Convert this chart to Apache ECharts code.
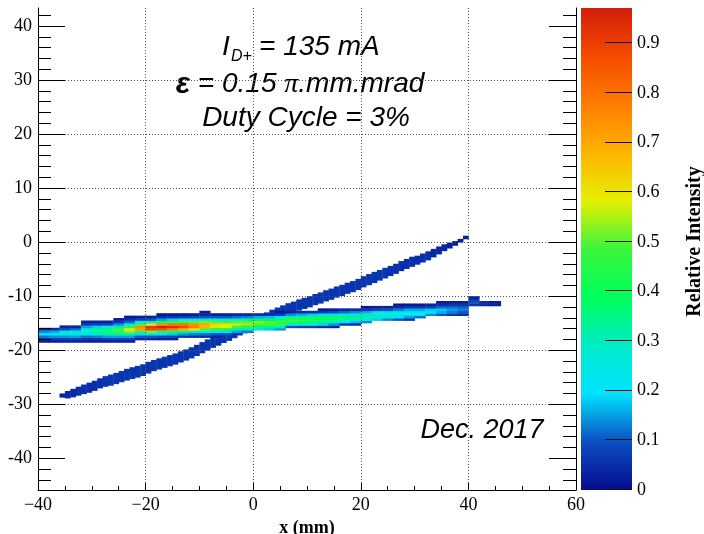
<!DOCTYPE html>
<html>
<head>
<meta charset="utf-8">
<title>Beam profile</title>
<script src="https://cdn.jsdelivr.net/npm/echarts@6/dist/echarts.min.js"></script>
<style>
  html, body { margin: 0; padding: 0; background: #fff; }
  #chart { width: 704px; height: 534px; }
</style>
</head>
<body>
<div id="chart"></div>
<script>
// y bins of the main band are 0.45 mm tall, counted up from -46 mm
const binY0 = -46;
const binH = 0.45;

// main band: [x start (2 mm wide column), first y bin, intensities bottom -> top]
const bandColumns = [
    [-40, 61, [0.03, 0.06, 0.12, 0.20, 0.14, 0.05]],
    [-38, 61, [0.03, 0.07, 0.14, 0.22, 0.16, 0.05]],
    [-36, 61, [0.03, 0.07, 0.14, 0.24, 0.22, 0.10, 0.04]],
    [-34, 61, [0.03, 0.07, 0.15, 0.25, 0.27, 0.12, 0.04]],
    [-32, 61, [0.03, 0.06, 0.12, 0.22, 0.30, 0.28, 0.15, 0.07, 0.03]],
    [-30, 61, [0.03, 0.06, 0.13, 0.25, 0.35, 0.32, 0.18, 0.08, 0.03]],
    [-28, 61, [0.03, 0.07, 0.15, 0.30, 0.40, 0.36, 0.20, 0.09, 0.03]],
    [-26, 61, [0.03, 0.07, 0.15, 0.32, 0.46, 0.48, 0.30, 0.14, 0.06, 0.02]],
    [-24, 61, [0.03, 0.07, 0.15, 0.32, 0.52, 0.60, 0.45, 0.24, 0.11, 0.05, 0.02]],
    [-22, 62, [0.04, 0.10, 0.22, 0.45, 0.72, 0.75, 0.48, 0.22, 0.08, 0.03]],
    [-20, 62, [0.04, 0.10, 0.24, 0.52, 0.88, 0.92, 0.60, 0.30, 0.10, 0.03]],
    [-18, 62, [0.03, 0.08, 0.20, 0.45, 0.85, 0.97, 0.75, 0.40, 0.15, 0.05, 0.02]],
    [-16, 62, [0.03, 0.07, 0.18, 0.40, 0.78, 0.94, 0.80, 0.45, 0.18, 0.06, 0.02]],
    [-14, 63, [0.06, 0.15, 0.35, 0.70, 0.88, 0.80, 0.48, 0.20, 0.07, 0.02]],
    [-12, 63, [0.05, 0.13, 0.30, 0.60, 0.78, 0.75, 0.50, 0.22, 0.08, 0.03]],
    [-10, 63, [0.05, 0.12, 0.26, 0.50, 0.68, 0.70, 0.52, 0.26, 0.10, 0.04, 0.02]],
    [-8, 63, [0.04, 0.10, 0.22, 0.42, 0.60, 0.63, 0.50, 0.26, 0.10, 0.03]],
    [-6, 64, [0.10, 0.22, 0.42, 0.58, 0.60, 0.48, 0.26, 0.10, 0.03]],
    [-4, 65, [0.15, 0.32, 0.48, 0.56, 0.50, 0.30, 0.12, 0.04]],
    [-2, 65, [0.13, 0.30, 0.46, 0.54, 0.50, 0.32, 0.13, 0.04]],
    [0, 66, [0.20, 0.38, 0.50, 0.52, 0.36, 0.16, 0.05]],
    [2, 66, [0.18, 0.36, 0.48, 0.50, 0.37, 0.17, 0.05]],
    [4, 66, [0.15, 0.32, 0.45, 0.48, 0.38, 0.20, 0.07, 0.02]],
    [6, 67, [0.10, 0.28, 0.44, 0.46, 0.34, 0.14, 0.04]],
    [8, 67, [0.08, 0.25, 0.42, 0.44, 0.35, 0.16, 0.05]],
    [10, 67, [0.07, 0.22, 0.38, 0.42, 0.36, 0.18, 0.06]],
    [12, 67, [0.05, 0.18, 0.34, 0.40, 0.37, 0.22, 0.08, 0.02]],
    [14, 67, [0.04, 0.14, 0.30, 0.38, 0.37, 0.24, 0.10, 0.03]],
    [16, 68, [0.06, 0.20, 0.32, 0.36, 0.27, 0.12, 0.04]],
    [18, 68, [0.05, 0.17, 0.30, 0.34, 0.28, 0.14, 0.05]],
    [20, 69, [0.14, 0.26, 0.32, 0.28, 0.16, 0.06, 0.02]],
    [22, 70, [0.18, 0.28, 0.30, 0.20, 0.08, 0.03]],
    [24, 70, [0.14, 0.25, 0.28, 0.22, 0.10, 0.03]],
    [26, 70, [0.10, 0.20, 0.26, 0.24, 0.13, 0.05, 0.02]],
    [28, 70, [0.06, 0.15, 0.23, 0.24, 0.16, 0.07, 0.02]],
    [30, 71, [0.12, 0.20, 0.22, 0.16, 0.07, 0.02]],
    [32, 72, [0.14, 0.20, 0.18, 0.09, 0.03]],
    [34, 72, [0.10, 0.16, 0.18, 0.12, 0.05, 0.02]],
    [36, 72, [0.07, 0.13, 0.15, 0.12, 0.06, 0.02]],
    [38, 72, [0.05, 0.10, 0.13, 0.11, 0.06, 0.02]],
    [40, 76, [0.06, 0.10, 0.07, 0.03]],
    [42, 76, [0.05, 0.04]],
    [44, 76, [0.03, 0.02]]
];

// thin tilted line: [x start (1 mm wide), y low, y high, intensity]
const lineColumns = [
    [-36, -28.7, -28.0, 0.03], [-35, -28.85, -27.55, 0.04], [-34, -28.65, -27.15, 0.04],
    [-33, -28.35, -26.75, 0.05], [-32, -28.05, -26.35, 0.05], [-31, -27.8, -26.0, 0.05],
    [-30, -27.45, -25.65, 0.05], [-29, -27.0, -25.2, 0.05], [-28, -26.7, -24.8, 0.06],
    [-27, -26.5, -24.5, 0.06], [-26, -26.2, -24.2, 0.06], [-25, -25.85, -23.85, 0.06],
    [-24, -25.55, -23.45, 0.06], [-23, -25.25, -23.15, 0.06], [-22, -25.0, -22.9, 0.06],
    [-21, -24.7, -22.6, 0.06], [-20, -24.25, -22.15, 0.06], [-19, -23.8, -21.8, 0.06],
    [-18, -23.5, -21.5, 0.06], [-17, -23.2, -21.2, 0.06], [-16, -22.9, -20.9, 0.06],
    [-15, -22.6, -20.6, 0.06], [-14, -22.2, -20.2, 0.06], [-13, -21.85, -19.85, 0.06],
    [-12, -21.45, -19.45, 0.06], [-11, -21.0, -19.0, 0.06], [-10, -20.5, -18.5, 0.06],
    [-9, -20.0, -18.0, 0.06], [-8, -19.5, -17.5, 0.06], [-7, -19.1, -17.1, 0.06],
    [-6, -18.6, -16.6, 0.06], [-5, -18.2, -16.2, 0.06], [-4, -17.7, -15.7, 0.06],
    [-3, -17.2, -15.2, 0.06], [-2, -16.8, -14.8, 0.06], [-1, -16.3, -14.3, 0.06],
    [0, -15.9, -13.9, 0.06], [1, -15.4, -13.4, 0.06], [2, -15.0, -13.0, 0.06],
    [3, -14.5, -12.5, 0.06], [4, -14.1, -12.1, 0.06], [5, -13.7, -11.7, 0.06],
    [6, -13.3, -11.3, 0.06], [7, -13.0, -11.0, 0.06], [8, -12.6, -10.6, 0.06],
    [9, -12.3, -10.3, 0.06], [10, -12.0, -10.0, 0.06], [11, -11.6, -9.6, 0.06],
    [12, -11.3, -9.3, 0.06], [13, -10.9, -8.9, 0.06], [14, -10.6, -8.6, 0.06],
    [15, -10.2, -8.2, 0.06], [16, -9.9, -7.9, 0.06], [17, -9.5, -7.5, 0.06],
    [18, -9.2, -7.2, 0.06], [19, -8.8, -6.8, 0.06], [20, -8.3, -6.3, 0.06],
    [21, -7.9, -5.9, 0.06], [22, -7.5, -5.5, 0.06], [23, -7.05, -5.15, 0.06],
    [24, -6.65, -4.75, 0.06], [25, -6.2, -4.4, 0.05], [26, -5.8, -4.0, 0.05],
    [27, -5.3, -3.5, 0.05], [28, -4.9, -3.1, 0.05], [29, -4.5, -2.7, 0.05],
    [30, -4.1, -2.5, 0.05], [31, -3.7, -2.1, 0.05], [32, -3.3, -1.7, 0.05],
    [33, -2.75, -1.25, 0.04], [34, -2.2, -0.8, 0.04], [35, -1.6, -0.4, 0.04],
    [36, -1.1, -0.1, 0.03], [37, -0.6, 0.2, 0.03], [38, 0.0, 0.6, 0.03],
    [39, 0.6, 1.2, 0.03]
];

const yMajor = [-40, -30, -20, -10, 0, 10, 20, 30, 40];
const yMinor = [-44, -42, -38, -36, -34, -32, -28, -26, -24, -22, -18, -16, -14, -12,
    -8, -6, -4, -2, 2, 4, 6, 8, 12, 14, 16, 18, 22, 24, 26, 28, 32, 34, 36, 38, 42];
const zTicks = [0, 0.1, 0.2, 0.3, 0.4, 0.5, 0.6, 0.7, 0.8, 0.9];
const zMax = 0.971;

// rainbow palette, evenly spread from 0 to zMax
const palette = ['#060c8e', '#0b4fc2', '#00e2ff', '#00ebc8', '#00ff5a', '#3cf53c',
    '#e6f000', '#ffb400', '#ff7d00', '#f54a00', '#d21e0a'];

const cells = [];
lineColumns.forEach(function (c) {
    cells.push([c[0], c[1], c[0] + 1, c[2], c[3]]);
});
bandColumns.forEach(function (c) {
    c[2].forEach(function (v, i) {
        const y0 = binY0 + (c[1] + i) * binH;
        cells.push([c[0], y0, c[0] + 2, y0 + binH, v]);
    });
});

const serif = '"Liberation Serif", "DejaVu Serif", serif';
const sans = '"Liberation Sans", Arial, sans-serif';
const black = '#000';
const grid = {type: [1, 2], color: '#555', width: 1};

function yAxisPart(position, ticks, len, withLine, withLabel, withGrid) {
    return {
        type: 'value', gridIndex: 0, position: position,
        min: -45.87, max: 43.33, splitNumber: 9, z: 10,
        axisLine: {show: withLine, onZero: false, lineStyle: {color: black, width: 1}},
        axisTick: {show: true, inside: true, length: len, customValues: ticks,
            lineStyle: {color: black, width: 1}},
        axisLabel: {show: withLabel, customValues: yMajor, margin: 6,
            fontFamily: serif, fontSize: 18, color: black},
        splitLine: {show: withGrid, showMinLine: false, showMaxLine: false, lineStyle: grid}
    };
}

const stops = palette.map(function (c, i) {
    return {offset: i / (palette.length - 1), color: c};
});

function cellRect(params, api) {
    const a = api.coord([api.value(0), api.value(3)]);
    const b = api.coord([api.value(2), api.value(1)]);
    return {
        type: 'rect',
        shape: {x: a[0], y: a[1], width: b[0] - a[0] + 0.4, height: b[1] - a[1] + 0.4},
        style: {fill: api.visual('color')}
    };
}

// colour scale bar, with its tick marks as thin black bars
function colorBar(params, api) {
    const a = api.coord([api.value(0), api.value(3)]);
    const b = api.coord([api.value(2), api.value(1)]);
    const children = [{
        type: 'rect',
        shape: {x: a[0], y: a[1], width: b[0] - a[0], height: b[1] - a[1]},
        style: {fill: new echarts.graphic.LinearGradient(0, 1, 0, 0, stops)}
    }];
    zTicks.forEach(function (t) {
        const p = api.coord([api.value(2), t]);
        children.push({
            type: 'rect', z2: 10,
            shape: {x: Math.round(p[0]) - 27, y: Math.round(p[1]) - 1, width: 27, height: 1},
            style: {fill: '#111'}
        });
    });
    return {type: 'group', children: children};
}

const texts = [
    {type: 'text', x: 222, y: 47.3, z: 10, style: {text: 'I', fontFamily: sans,
        fontStyle: 'italic', fontSize: 28, fill: black, verticalAlign: 'middle'}},
    {type: 'text', x: 231, y: 57, z: 10, style: {text: 'D+', fontFamily: sans,
        fontStyle: 'italic', fontSize: 16, fill: black, verticalAlign: 'middle'}},
    {type: 'text', x: 259, y: 47.3, z: 10, style: {text: '= 135 mA', fontFamily: sans,
        fontStyle: 'italic', fontSize: 28, fill: black, verticalAlign: 'middle'}},
    {type: 'text', x: 300, y: 84.3, z: 10, style: {
        text: '{e|\u03b5}{t| = 0.15 }{p|\u03c0}{t|.mm.mrad}',
        align: 'center', verticalAlign: 'middle',
        rich: {
            e: {fontFamily: sans, fontStyle: 'italic', fontWeight: 'bold', fontSize: 30, fill: black},
            t: {fontFamily: sans, fontStyle: 'italic', fontSize: 28, fill: black},
            p: {fontFamily: serif, fontStyle: 'italic', fontSize: 28, fill: black}
        }
    }},
    {type: 'text', x: 306, y: 118.3, z: 10, style: {text: 'Duty Cycle = 3%', fontFamily: sans,
        fontStyle: 'italic', fontSize: 28, fill: black, align: 'center', verticalAlign: 'middle'}},
    {type: 'text', x: 482, y: 430.6, z: 10, style: {text: 'Dec. 2017', fontFamily: sans,
        fontStyle: 'italic', fontSize: 27, fill: black, align: 'center', verticalAlign: 'middle'}},
    {type: 'text', x: 695, y: 241.5, rotation: Math.PI / 2, z: 10, style: {
        text: 'Relative Intensity', fontFamily: serif, fontWeight: 'bold', fontSize: 20,
        fill: black, align: 'center', verticalAlign: 'middle'}}
];

let chart = echarts.init(document.getElementById('chart'));
let option = {
    animation: false,
    backgroundColor: '#fff',
    grid: [
        {left: 38, right: 128, top: 8, bottom: 44, containLabel: false, outerBoundsMode: 'none'},
        {left: 581, right: 72, top: 8, bottom: 44, containLabel: false, outerBoundsMode: 'none'}
    ],
    xAxis: [
        {
            type: 'value', gridIndex: 0, min: -40, max: 60, interval: 20, z: 10,
            name: 'x (mm)', nameLocation: 'middle', nameGap: 1,
            nameTextStyle: {fontFamily: serif, fontWeight: 'bold', fontSize: 18, color: black},
            axisLine: {onZero: false, lineStyle: {color: black, width: 1}},
            axisTick: {inside: true, length: 7, lineStyle: {color: black}},
            minorTick: {show: true, splitNumber: 4, length: 4, lineStyle: {color: black}},
            axisLabel: {
                margin: 6, fontFamily: serif, fontSize: 18, color: black,
                formatter: function (v) { return v < 0 ? '\u2212' + (-v) : String(v); }
            },
            splitLine: {show: true, showMinLine: false, showMaxLine: false, lineStyle: grid}
        },
        {type: 'value', gridIndex: 1, min: 0, max: 1, show: false}
    ],
    yAxis: [
        yAxisPart('left', yMajor, 27, true, true, true),
        yAxisPart('left', yMinor, 13, false, false, false),
        yAxisPart('right', yMajor, 27, true, false, false),
        yAxisPart('right', yMinor, 13, false, false, false),
        {
            type: 'value', gridIndex: 1, position: 'right', min: 0, max: zMax, z: 10,
            interval: 0.1,
            axisLine: {show: false, onZero: false},
            axisTick: {show: false},
            axisLabel: {showMaxLabel: false, margin: 5, fontFamily: serif, fontSize: 18, color: black},
            splitLine: {show: false}
        }
    ],
    visualMap: {
        show: false, type: 'continuous', min: 0, max: zMax, dimension: 4, seriesIndex: 0,
        inRange: {color: palette}
    },
    series: [
        {
            type: 'custom',
            xAxisIndex: 0, yAxisIndex: 0, z: -2, clip: true,
            encode: {x: [0, 2], y: [1, 3]},
            data: cells,
            renderItem: cellRect
        },
        {
            type: 'custom',
            xAxisIndex: 1, yAxisIndex: 4, z: 2, silent: true,
            encode: {x: [0, 2], y: [1, 3]},
            data: [[0, 0, 1, zMax]],
            renderItem: colorBar
        }
    ],
    graphic: texts
};
chart.setOption(option);
</script>
</body>
</html>
